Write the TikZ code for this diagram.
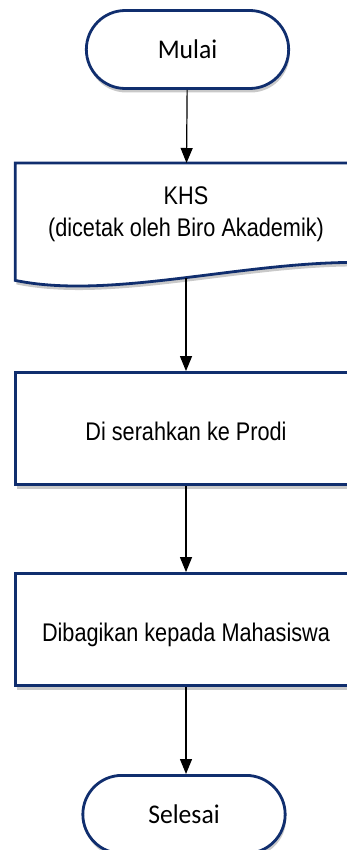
\documentclass[tikz,border=0pt]{standalone}
\usepackage{fontspec}
\usetikzlibrary{shapes.misc,shadows,arrows.meta}
\newfontfamily\calibrifont[FakeStretch=0.95]{Carlito}
\newfontfamily\arialfont[FakeStretch=0.85]{Liberation Sans}
\definecolor{bcol}{RGB}{16,46,110}
\tikzset{every picture/.style={x=1pt,y=-1pt}}
\tikzset{softshadow/.style={drop shadow={shadow xshift=1pt,shadow yshift=-4pt,opacity=.3,fill=black!70}}}
\tikzset{term/.style={rounded rectangle,draw=bcol,line width=2.8pt,fill=white,softshadow,minimum width=209pt,minimum height=78pt,font=\calibrifont\fontsize{27}{32}\selectfont}}
\tikzset{proc/.style={rectangle,draw=bcol,line width=2.8pt,fill=white,softshadow,minimum width=341pt,minimum height=112pt,text height=24pt,text depth=1pt,font=\arialfont\fontsize{25.5}{32}\selectfont}}
\tikzset{docbox/.style={rectangle,minimum width=341pt,minimum height=117pt,inner sep=0pt}}
\tikzset{doc/.style={draw=bcol,line width=2.8pt,fill=white,softshadow}}
\tikzset{edge/.style={-{Triangle[length=15pt,width=12pt]},line width=1.2pt}}

\begin{document}
\begin{tikzpicture}
\useasboundingbox (0,0) rectangle (347,850);
\clip (0,0) rectangle (347,850);

\node [term] (start) at (187.5,49.5) {Mulai};

\node [docbox] (khs) at (186,221.7) {};
\draw [doc] (khs.south west) -- (khs.north west) -- (khs.north east) -- ([yshift=18pt]khs.south east)
  .. controls (240,262) and (110,300) .. (khs.south west) -- cycle;
\node [align=center,inner sep=0pt,font=\arialfont\fontsize{25.5}{32}\selectfont] (khstext) at ([yshift=7pt]khs.center) {KHS\\(dicetak oleh Biro Akademik)};
\coordinate (khsb) at (186,278);

\node [proc] (prodi) at (186,428.5) {Di serahkan ke Prodi};
\node [proc] (mhs) at (186,629.5) {Dibagikan kepada Mahasiswa};

\node [term] (stop) at (184,814.4) {Selesai};

\draw [edge] (start) -- (khs);
\draw [edge] (khsb) -- (prodi);
\draw [edge] (prodi) -- (mhs);
\draw [edge] (mhs.south) -- (mhs.south |- stop.north);
\end{tikzpicture}
\end{document}
